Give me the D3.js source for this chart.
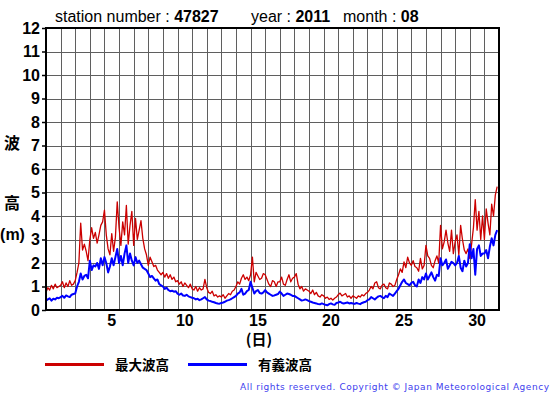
<!DOCTYPE html>
<html>
<head>
<meta charset="utf-8">
<script src="https://cdn.jsdelivr.net/npm/d3@7"></script>
<style>
  body { margin: 0; background: #fff; }
  svg { display: block; }
</style>
</head>
<body>
<svg id="chart" width="555" height="395"></svg>
<script>
// 3-hourly readings, 8 per day, 1-31 Aug 2011
const pointsPerDay = 8;
const dayCount = 31;

const maxWave = [
  0.75,0.95,0.85,1.05,0.9,1.1,0.95,1.0,
  1.05,1.2,0.95,1.15,1.0,1.25,1.05,1.1,
  1.25,1.6,2.0,3.7,2.55,2.8,2.5,2.1,
  3.0,3.5,3.05,3.3,2.85,3.2,3.6,3.75,
  4.25,3.2,2.6,2.35,3.25,2.5,3.1,4.6,
  3.5,2.75,3.75,3.2,4.45,2.8,3.6,4.2,
  2.75,3.9,3.0,3.4,3.8,3.05,2.6,2.35,
  1.9,2.25,2.05,1.85,1.9,1.7,1.6,1.5,
  1.6,1.4,1.55,1.35,1.5,1.3,1.4,1.2,
  1.25,1.1,1.2,1.0,1.15,1.05,0.95,1.1,
  0.9,0.85,1.0,0.8,0.95,0.85,0.9,1.3,
  0.95,0.75,0.7,0.8,0.6,0.65,0.55,0.6,
  0.55,0.65,0.5,0.6,0.7,0.65,0.8,0.85,
  1.0,1.2,1.1,1.35,1.5,1.3,1.4,1.25,
  1.5,2.25,1.2,1.6,1.45,1.3,1.35,1.55,
  1.5,1.3,1.1,1.0,1.25,1.2,1.0,1.2,
  1.2,1.4,1.1,1.05,1.3,1.5,1.2,1.35,
  1.4,1.55,1.1,0.9,1.0,0.8,0.9,0.85,
  0.8,0.7,0.85,0.65,0.75,0.6,0.55,0.65,
  0.6,0.5,0.55,0.45,0.5,0.42,0.5,0.55,
  0.65,0.72,0.6,0.65,0.7,0.55,0.6,0.5,
  0.6,0.55,0.5,0.6,0.55,0.65,0.6,0.7,
  0.75,0.85,1.0,0.9,1.15,1.2,0.95,0.9,
  1.05,1.1,0.95,0.9,1.15,1.1,1.0,1.05,
  1.3,1.5,1.75,1.6,2.05,1.8,2.25,2.0,
  1.9,2.1,1.85,1.8,1.65,2.2,1.75,1.9,
  2.75,2.3,2.2,1.9,1.8,2.1,2.3,2.0,
  3.6,2.6,2.9,3.4,2.85,2.5,3.4,2.4,
  2.9,3.2,2.35,3.6,3.0,2.55,2.4,2.6,
  2.2,2.8,3.5,4.7,3.4,4.2,3.0,4.0,
  3.0,4.3,3.7,3.2,4.5,4.0,4.9,5.25
];

const sigWave = [
  0.4,0.45,0.5,0.4,0.48,0.45,0.52,0.5,
  0.55,0.6,0.52,0.62,0.58,0.55,0.65,0.68,
  0.7,1.0,1.2,1.55,1.3,1.45,1.5,1.35,
  2.1,1.7,1.9,1.85,2.0,1.75,2.2,1.9,
  2.25,2.0,1.6,1.85,2.2,1.9,2.25,2.6,
  2.0,2.3,1.9,2.4,2.75,2.0,2.4,2.1,
  1.9,2.25,2.0,2.1,1.95,1.8,1.75,1.7,
  1.55,1.4,1.45,1.35,1.25,1.3,1.1,1.05,
  1.0,0.9,0.95,0.85,0.8,0.82,0.78,0.8,
  0.7,0.65,0.7,0.62,0.6,0.65,0.58,0.55,
  0.52,0.5,0.45,0.48,0.42,0.45,0.5,0.55,
  0.45,0.4,0.38,0.35,0.33,0.3,0.28,0.27,
  0.3,0.32,0.35,0.4,0.42,0.45,0.5,0.55,
  0.6,0.7,0.75,0.9,0.65,0.7,0.8,0.85,
  1.2,0.95,0.7,0.8,0.85,0.72,0.7,0.75,
  0.85,0.75,0.7,0.65,0.6,0.62,0.65,0.68,
  0.78,0.7,0.6,0.65,0.7,0.68,0.65,0.6,
  0.6,0.55,0.5,0.45,0.4,0.42,0.45,0.42,
  0.38,0.35,0.32,0.3,0.28,0.25,0.24,0.28,
  0.25,0.22,0.2,0.25,0.28,0.24,0.22,0.3,
  0.32,0.35,0.3,0.28,0.3,0.32,0.28,0.3,
  0.28,0.26,0.3,0.27,0.25,0.3,0.33,0.35,
  0.42,0.45,0.55,0.5,0.45,0.52,0.58,0.6,
  0.55,0.5,0.6,0.55,0.7,0.65,0.6,0.7,
  0.8,0.9,1.05,1.2,1.3,1.15,1.1,1.05,
  1.15,1.2,1.05,1.0,1.3,1.15,1.4,1.3,
  1.55,1.3,1.45,1.6,1.4,1.25,1.5,1.45,
  2.2,1.9,2.0,2.15,1.75,1.9,2.05,2.0,
  1.9,2.0,2.3,1.8,1.65,2.1,1.85,2.0,
  2.8,2.2,2.6,1.5,2.6,2.75,2.3,2.4,
  2.4,2.55,2.2,2.7,3.05,2.75,3.2,3.4
];

const yTickValues = [0,1,2,3,4,5,6,7,8,9,10,11,12];
const xTickDays = [5,10,15,20,25,30];
const legendItems = [
  {label: "最大波高", color: "#cc0000"},
  {label: "有義波高", color: "#0000ff"}
];

const plotL = 46, plotR = 499, plotT = 28, plotB = 310;
const x = d3.scaleLinear().domain([0, dayCount]).range([plotL, plotR]);
const y = d3.scaleLinear().domain([0, 12]).range([plotB, plotT]);

const svg = d3.select("#chart");
const latin = "'Liberation Sans', Arial, Helvetica, sans-serif";
const cjk = "'Noto Sans CJK JP', sans-serif";

// title
const title = svg.append("text").attr("y", 22)
  .style("font-family", latin).style("font-size", "16px");
[["station number : ", "47827", 55], ["year : ", "2011", 251], ["month : ", "08", 343]]
  .forEach(([lab, val, px]) => {
    title.append("tspan").attr("x", px).text(lab);
    title.append("tspan").style("font-weight", "bold").text(val);
  });

// grid
const snap = v => Math.round(v) + 0.5;
svg.append("g").selectAll("line")
  .data(d3.range(1, dayCount)).enter().append("line")
  .attr("x1", d => snap(x(d))).attr("x2", d => snap(x(d)))
  .attr("y1", plotT).attr("y2", plotB)
  .attr("stroke", "#5f5f5f").attr("stroke-width", 1);
svg.append("g").selectAll("line")
  .data(yTickValues.slice(1, -1)).enter().append("line")
  .attr("y1", d => snap(y(d))).attr("y2", d => snap(y(d)))
  .attr("x1", plotL).attr("x2", plotR)
  .attr("stroke", "#5f5f5f").attr("stroke-width", 1);

// series
const line = d3.line()
  .x((d, i) => x(i / pointsPerDay))
  .y(d => y(d));
svg.append("path").datum(maxWave).attr("d", line)
  .attr("fill", "none").attr("stroke", "#cc0000").attr("stroke-width", 1.3)
  .attr("stroke-linejoin", "round");
svg.append("path").datum(sigWave).attr("d", line)
  .attr("fill", "none").attr("stroke", "#0000ff").attr("stroke-width", 2)
  .attr("stroke-linejoin", "round");

// frame
svg.append("rect")
  .attr("x", plotL).attr("y", plotT)
  .attr("width", plotR - plotL).attr("height", plotB - plotT)
  .attr("fill", "none").attr("stroke", "#000").attr("stroke-width", 2);

// y axis
const yAxis = svg.append("g").attr("transform", `translate(${plotL},0)`)
  .call(d3.axisLeft(y).tickValues(yTickValues).tickSize(4).tickPadding(2));
yAxis.select(".domain").remove();
yAxis.selectAll("line").attr("stroke", "#000").attr("stroke-width", 1.5);
yAxis.selectAll("text")
  .style("font-family", latin).style("font-size", "16px")
  .style("font-weight", "bold").attr("fill", "#000");

// x labels
svg.append("g").selectAll("text")
  .data(xTickDays).enter().append("text")
  .attr("x", d => x(d - 0.5)).attr("y", 326)
  .attr("text-anchor", "middle")
  .style("font-family", latin).style("font-size", "16px").style("font-weight", "bold")
  .text(d => d);
svg.append("text").attr("x", 259).attr("y", 345).attr("text-anchor", "middle")
  .style("font-family", cjk).style("font-size", "15px").style("font-weight", "bold")
  .text("(日)");

// y title
svg.append("text").attr("x", 12).attr("y", 149).attr("text-anchor", "middle")
  .style("font-family", cjk).style("font-size", "16px").style("font-weight", "bold").text("波");
svg.append("text").attr("x", 12).attr("y", 209).attr("text-anchor", "middle")
  .style("font-family", cjk).style("font-size", "16px").style("font-weight", "bold").text("高");
svg.append("text").attr("x", 12.5).attr("y", 240).attr("text-anchor", "middle")
  .style("font-family", latin).style("font-size", "16px").style("font-weight", "bold").text("(m)");

// legend
const leg = svg.append("g").selectAll("g")
  .data(legendItems).enter().append("g")
  .attr("transform", (d, i) => `translate(${45 + i * 143},0)`);
leg.append("line").attr("x1", 0).attr("x2", 59).attr("y1", 364.5).attr("y2", 364.5)
  .attr("stroke", d => d.color).attr("stroke-width", 3);
leg.append("text").attr("x", 70).attr("y", 369.5)
  .style("font-family", cjk).style("font-size", "13.5px").style("font-weight", "bold")
  .text(d => d.label);

// footer
svg.append("text").attr("x", 240).attr("y", 390)
  .attr("textLength", 309).attr("lengthAdjust", "spacing")
  .style("font-family", "'DejaVu Sans', sans-serif").style("font-size", "9px")
  .attr("fill", "#4040ee")
  .text("All rights reserved. Copyright © Japan Meteorological Agency");
</script>
</body>
</html>
